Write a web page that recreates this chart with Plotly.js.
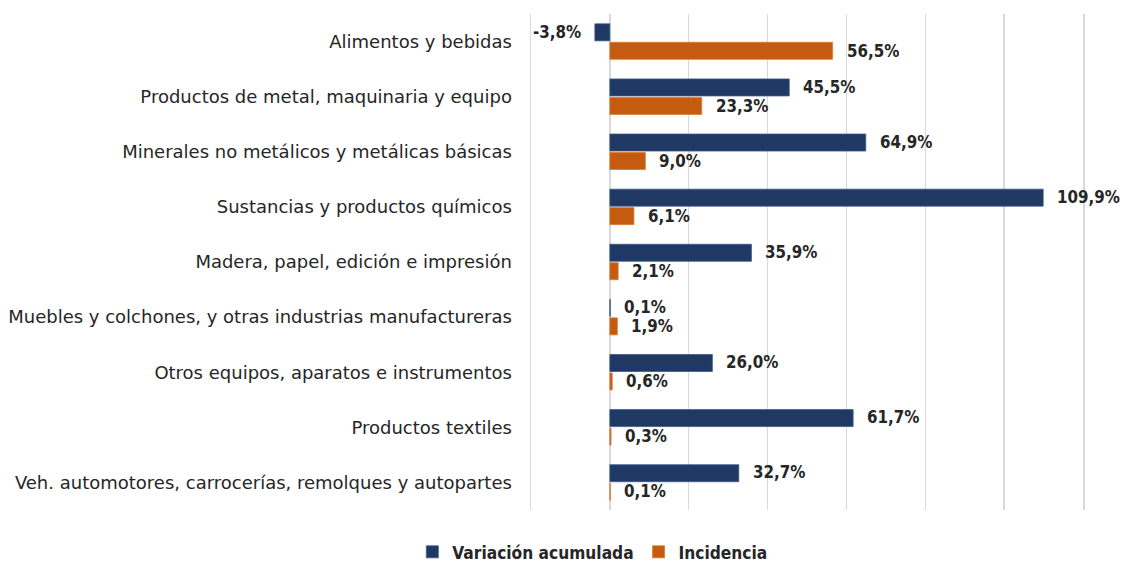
<!DOCTYPE html>
<html>
<head>
<meta charset="utf-8">
<script src="https://cdn.plot.ly/plotly-3.0.1.min.js"></script>
<style>html,body{margin:0;padding:0;background:#fff;}#chart{width:1126px;height:562px;}</style>
</head>
<body>
<div id="chart"></div>
<script>
const categories = [
  "Alimentos y bebidas",
  "Productos de metal, maquinaria y equipo",
  "Minerales no metálicos y metálicas básicas",
  "Sustancias y productos químicos",
  "Madera, papel, edición e impresión",
  "Muebles y colchones, y otras industrias manufactureras",
  "Otros equipos, aparatos e instrumentos",
  "Productos textiles",
  "Veh. automotores, carrocerías, remolques y autopartes"
];
const variacion = [-3.8, 45.5, 64.9, 109.9, 35.9, 0.1, 26.0, 61.7, 32.7];
const incidencia = [56.5, 23.3, 9.0, 6.1, 2.1, 1.9, 0.6, 0.3, 0.1];
const seriesNames = ["Variación acumulada", "Incidencia"];
const seriesColors = ["#1f3864", "#c55a11"];

const LABEL_FONT = "'DejaVu Sans Condensed', sans-serif";
const CAT_FONT = "'DejaVu Sans', sans-serif";
const fmt = v => v.toFixed(1).replace('.', ',') + '%';

const traces = [variacion, incidencia].map((vals, i) => ({
  type: 'bar',
  orientation: 'h',
  name: seriesNames[i],
  y: categories,
  x: vals,
  marker: {color: seriesColors[i], line: {color: i === 0 ? '#3a5a8c' : '#d9782f', width: 0.8}},
  hoverinfo: 'x+y'
}));

const annotations = [];
[variacion, incidencia].forEach((vals, i) => {
  vals.forEach((v, j) => {
    annotations.push({
      x: v, y: categories[j], xref: 'x', yref: 'y',
      text: '<b>' + fmt(v) + '</b>',
      showarrow: false,
      xanchor: v < 0 ? 'right' : 'left',
      xshift: v < 0 ? -13 : 13,
      yshift: i === 0 ? 10 : -9,
      borderpad: 0,
      font: {family: LABEL_FONT, size: 16.8, color: '#262626'}
    });
  });
});

const layout = {
  width: 1126, height: 562,
  margin: {l: 531, r: 43, t: 14, b: 52, autoexpand: false},
  paper_bgcolor: '#fff', plot_bgcolor: '#fff',
  barmode: 'group',
  bargap: 0.33, bargroupgap: 0.08,
  xaxis: {
    range: [-20, 120], dtick: 20, tick0: 0,
    showticklabels: false, showgrid: true, gridcolor: '#d9d9d9', gridwidth: 1.5,
    zeroline: true, zerolinecolor: '#d9d9d9', zerolinewidth: 1.5,
    showline: false, fixedrange: true
  },
  yaxis: {
    autorange: 'reversed', type: 'category',
    showgrid: false, zeroline: false,
    showline: true, mirror: true, linecolor: '#d9d9d9', linewidth: 1.5,
    ticks: '', ticklabelstandoff: 14,
    tickfont: {family: CAT_FONT, size: 18, color: '#262626'}
  },
  showlegend: true,
  legend: {
    orientation: 'h', x: -0.215, xanchor: 'left', y: -0.085, yanchor: 'middle',
    font: {family: LABEL_FONT, size: 17.2, color: '#262626', weight: 'bold'},
    traceorder: 'normal', itemwidth: 30
  },
  annotations: annotations
};

Plotly.newPlot('chart', traces, layout, {displayModeBar: false, staticPlot: true});
</script>
</body>
</html>
